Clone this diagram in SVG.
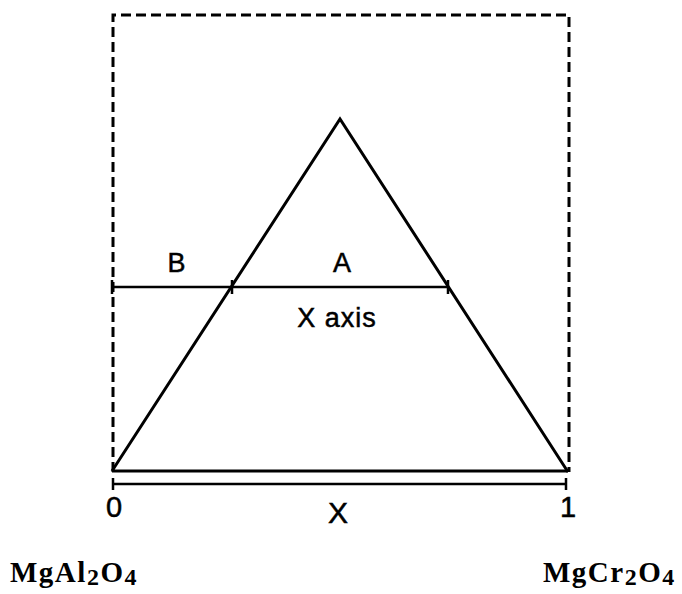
<svg xmlns="http://www.w3.org/2000/svg" width="682" height="594" viewBox="0 0 682 594">
<style>
.ln{stroke:#000;stroke-width:3;fill:none;stroke-linecap:butt}
.th{stroke:#000;stroke-width:2.5;fill:none}
.dash{stroke:#000;stroke-width:3;fill:none;stroke-dasharray:10,5}
.lab{font-family:"Liberation Sans",Arial,sans-serif;font-size:27px;fill:#000;stroke:#000;stroke-width:0.5;text-anchor:middle}
.chem{font-family:"Liberation Serif","Times New Roman",serif;font-weight:bold;font-size:29px;fill:#000;letter-spacing:1.5px}
.sub{font-size:24px}
</style>
<rect width="682" height="594" fill="#fff"/>
<g id="frame"><path class="dash" d="M113,472 V15 H569 V472"/></g>
<g id="triangle"><path class="ln" d="M112,471 L340,119 L568,472"/></g>
<g id="connectors">
<path class="th" d="M112,287 H448"/>
<path class="th" d="M112,280 V294 M232,280 V294 M448,280 V294"/>
<path class="ln" d="M112,471 H568"/>
<path class="th" d="M113,484 H566 M113,478 V490 M566,478 V490"/>
</g>
<g id="labels">
<text class="lab" x="176.5" y="272">B</text>
<text class="lab" x="342" y="272">A</text>
<text class="lab" x="337" y="327" style="letter-spacing:1px">X axis</text>
<text class="lab" x="114" y="517" style="font-size:29px">0</text>
<text class="lab" x="338" y="523" style="font-size:30px">X</text>
<text class="lab" x="568" y="517" style="font-size:29px">1</text>
</g>
<g id="formulas">
<text class="chem" x="10" y="582">MgAl<tspan class="sub" dy="3">2</tspan><tspan dy="-3">O</tspan><tspan class="sub" dy="3">4</tspan></text>
<text class="chem" x="543" y="582">MgCr<tspan class="sub" dy="3">2</tspan><tspan dy="-3">O</tspan><tspan class="sub" dy="3">4</tspan></text>
</g>
</svg>
